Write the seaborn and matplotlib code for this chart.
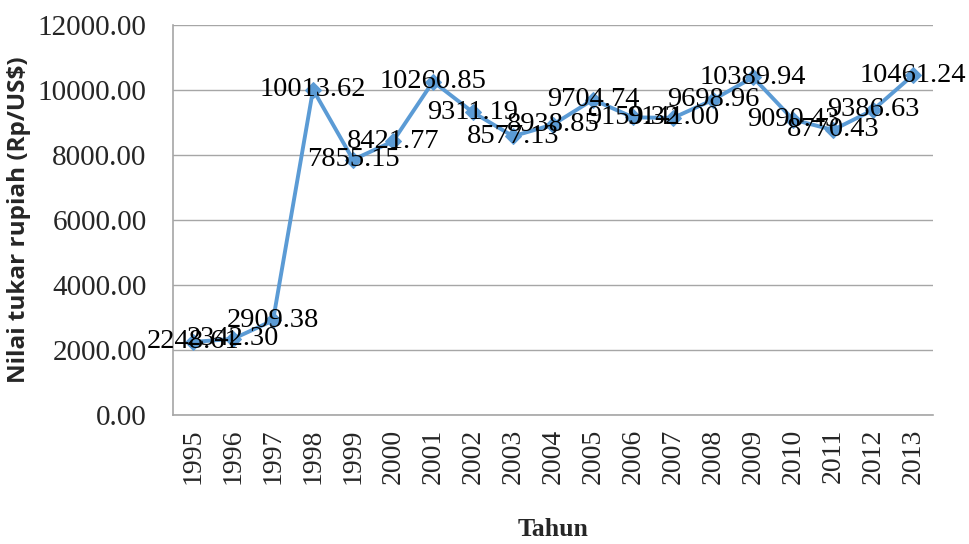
import matplotlib
matplotlib.use('Agg')
import matplotlib.pyplot as plt
import seaborn as sns
import pandas as pd
from matplotlib.ticker import FixedLocator, FormatStrFormatter

# Exchange rate data (Rp/US$)
years = ["1995", "1996", "1997", "1998", "1999", "2000", "2001", "2002", "2003", "2004",
         "2005", "2006", "2007", "2008", "2009", "2010", "2011", "2012", "2013"]
kurs = [2248.61, 2342.30, 2909.38, 10013.62, 7855.15, 8421.77, 10260.85, 9311.19, 8577.13, 8938.85,
        9704.74, 9159.32, 9141.00, 9698.96, 10389.94, 9090.43, 8770.43, 9386.63, 10461.24]
y_ticks = [0, 2000, 4000, 6000, 8000, 10000, 12000]

df = pd.DataFrame({"Tahun": years, "Kurs": kurs})

sns.set_style("white")
plt.rcParams['font.family'] = ['Liberation Serif', 'DejaVu Serif']

fig = plt.figure(figsize=(9.7, 5.44), dpi=100)
ax = fig.add_axes([0.1784, 0.2371, 0.7835, 0.7169])

line_color = "#5B9BD5"
sns.lineplot(data=df, x="Tahun", y="Kurs", ax=ax, color=line_color, linewidth=2.8,
             marker="D", markersize=8, markeredgecolor=line_color, sort=False)

# data labels centred on each point
for i, v in enumerate(kurs):
    ax.text(i, v, f"{v:.2f}", ha="center", va="center", fontsize=20.5, color="black")

ax.set_xlim(-0.5, len(years) - 0.5)
ax.set_ylim(0, 12000)
ax.set_yticks(y_ticks)
ax.yaxis.set_major_formatter(FormatStrFormatter("%.2f"))
ax.grid(axis="y", color="#A6A6A6", linewidth=1)
ax.grid(axis="x", visible=False)

ax.set_xticks(range(len(years)))
ax.set_xticklabels(years, rotation=90, fontsize=20)
ax.xaxis.set_minor_locator(FixedLocator([i - 0.5 for i in range(len(years) + 1)]))
ax.tick_params(axis="x", which="major", length=0, pad=10)
ax.tick_params(axis="x", which="minor", length=7, color="#A6A6A6", width=1, direction="out")
ax.tick_params(axis="y", labelsize=21, length=6, color="#A6A6A6", width=1, direction="out", pad=13)

for side in ["top", "right"]:
    ax.spines[side].set_visible(False)
for side in ["left", "bottom"]:
    ax.spines[side].set_color("#A6A6A6")
    ax.spines[side].set_linewidth(1.2)

ax.set_xlabel("Tahun", fontsize=18.5, fontweight="bold")
ax.xaxis.set_label_coords(0.5, -0.265)
ax.set_ylabel("Nilai tukar rupiah (Rp/US$)", fontsize=17.5, fontweight="bold",
              family=["Open Sans", "DejaVu Sans"])
ax.yaxis.set_label_coords(-0.187, 0.5)

fig.savefig("out.png", dpi=100)
plt.close(fig)
